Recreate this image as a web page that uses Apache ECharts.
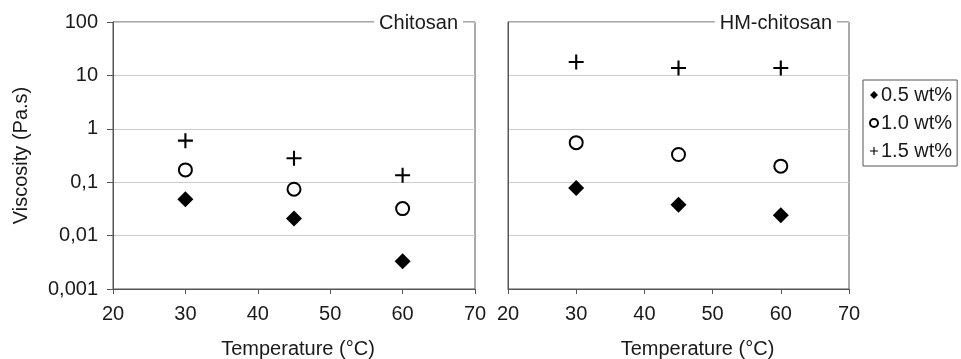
<!DOCTYPE html>
<html>
<head>
<meta charset="utf-8">
<script src="https://cdn.jsdelivr.net/npm/echarts@6/dist/echarts.min.js"></script>
<style>html,body{margin:0;padding:0;background:#fff}#c{width:961px;height:359px}</style>
</head>
<body>
<div id="c"></div>
<script>
var temps = [30, 45, 60];
var seriesNames = ['0.5 wt%', '1.0 wt%', '1.5 wt%'];
var chitosan05 = [0.048, 0.021, 0.0033];
var chitosan10 = [0.17, 0.074, 0.032];
var chitosan15 = [0.6, 0.28, 0.135];
var hm05 = [0.078, 0.038, 0.024];
var hm10 = [0.55, 0.33, 0.2];
var hm15 = [17.8, 13.8, 13.8];
var panelTitles = ['Chitosan', 'HM-chitosan'];
var xTicks = [20, 30, 40, 50, 60, 70];
var yTicks = [0.001, 0.01, 0.1, 1, 10, 100];

var FONT = 'Liberation Sans, Arial, sans-serif';
var TXT = '#1a1a1a';
var AX = '#555';
var plusPath = 'path://M4.3,0H5.7V4.3H10V5.7H5.7V10H4.3V5.7H0V4.3H4.3Z';

function pairs(vals) { return temps.map(function (t, i) { return [t, vals[i]]; }); }
function fmtY(v) {
  var n = Number(Number(v).toPrecision(6));
  return String(n).replace('.', ',');
}

var symbolDefs = [
  { symbol: 'diamond', symbolSize: 16, itemStyle: { color: '#000', opacity: 1 } },
  { symbol: 'emptyCircle', symbolSize: 13, itemStyle: { color: '#000', borderColor: '#000', borderWidth: 2, opacity: 1 } },
  { symbol: plusPath, symbolSize: 15, itemStyle: { color: '#000', opacity: 1 } }
];

function mkX(gi) {
  return {
    type: 'value', gridIndex: gi, min: xTicks[0], max: xTicks[xTicks.length - 1], interval: 10,
    axisLine: { show: true, lineStyle: { color: AX, width: 1 } },
    axisTick: { show: true, length: 5, lineStyle: { color: AX } },
    axisLabel: { color: TXT, fontSize: 20, fontFamily: FONT, margin: 15 },
    splitLine: { show: false },
    name: 'Temperature (°C)', nameLocation: 'middle', nameGap: 50,
    nameTextStyle: { color: TXT, fontSize: 20, fontFamily: FONT, padding: gi === 0 ? [0, 0, 0, 8] : [0, 0, 0, 38] }
  };
}
function mkY(gi) {
  return {
    type: 'log', logBase: 10, gridIndex: gi, min: yTicks[0], max: yTicks[yTicks.length - 1], interval: 1,
    axisLine: { show: true, lineStyle: { color: AX, width: 1 } },
    axisTick: { show: gi === 0, length: 6, lineStyle: { color: AX } },
    axisLabel: { show: gi === 0, color: TXT, fontSize: 20, fontFamily: FONT, margin: 15, formatter: fmtY },
    splitLine: { show: true, lineStyle: { color: '#ccc', width: 1 } },
    minorTick: { show: false },
    name: gi === 0 ? 'Viscosity (Pa.s)' : '', nameLocation: 'middle', nameGap: 82, nameRotate: 90,
    nameTextStyle: { color: TXT, fontSize: 20, fontFamily: FONT }
  };
}

var allData = [[chitosan05, chitosan10, chitosan15], [hm05, hm10, hm15]];
var series = [];
for (var g = 0; g < 2; g++) {
  for (var s = 0; s < 3; s++) {
    series.push(Object.assign({
      type: 'scatter', name: seriesNames[s], xAxisIndex: g, yAxisIndex: g,
      data: pairs(allData[g][s]), z: 5
    }, symbolDefs[s]));
  }
}

var chart = echarts.init(document.getElementById('c'), null, { renderer: 'canvas' });
chart.setOption({
  animation: false,
  backgroundColor: '#fff',
  textStyle: { fontFamily: FONT },
  grid: [
    { left: 113, right: 486, top: 22, bottom: 70, show: true, borderColor: AX, borderWidth: 1, backgroundColor: 'transparent', containLabel: false, outerBoundsMode: 'none' },
    { left: 508, right: 112, top: 22, bottom: 70, show: true, borderColor: AX, borderWidth: 1, backgroundColor: 'transparent', containLabel: false, outerBoundsMode: 'none' }
  ],
  title: [
    { text: panelTitles[0], right: 498, top: 12, padding: [0, 5], backgroundColor: '#fff',
      textStyle: { color: TXT, fontSize: 20, fontWeight: 'normal', fontFamily: FONT, lineHeight: 22 } },
    { text: panelTitles[1], right: 124, top: 12, padding: [0, 5], backgroundColor: '#fff',
      textStyle: { color: TXT, fontSize: 20, fontWeight: 'normal', fontFamily: FONT, lineHeight: 22 } }
  ],
  legend: {
    orient: 'vertical', left: 863, top: 80,
    data: [
      { name: seriesNames[0] },
      { name: seriesNames[1], itemStyle: { borderWidth: 1.2 } },
      { name: seriesNames[2] }
    ],
    padding: [5, 5, 5, 6], itemGap: 8, itemWidth: 8, itemHeight: 8,
    borderColor: AX, borderWidth: 1, backgroundColor: '#fff',
    textStyle: { color: TXT, fontSize: 20, fontFamily: FONT, padding: [0, 0, 0, -2] }
  },
  xAxis: [mkX(0), mkX(1)],
  yAxis: [mkY(0), mkY(1)],
  series: series
});
</script>
</body>
</html>
